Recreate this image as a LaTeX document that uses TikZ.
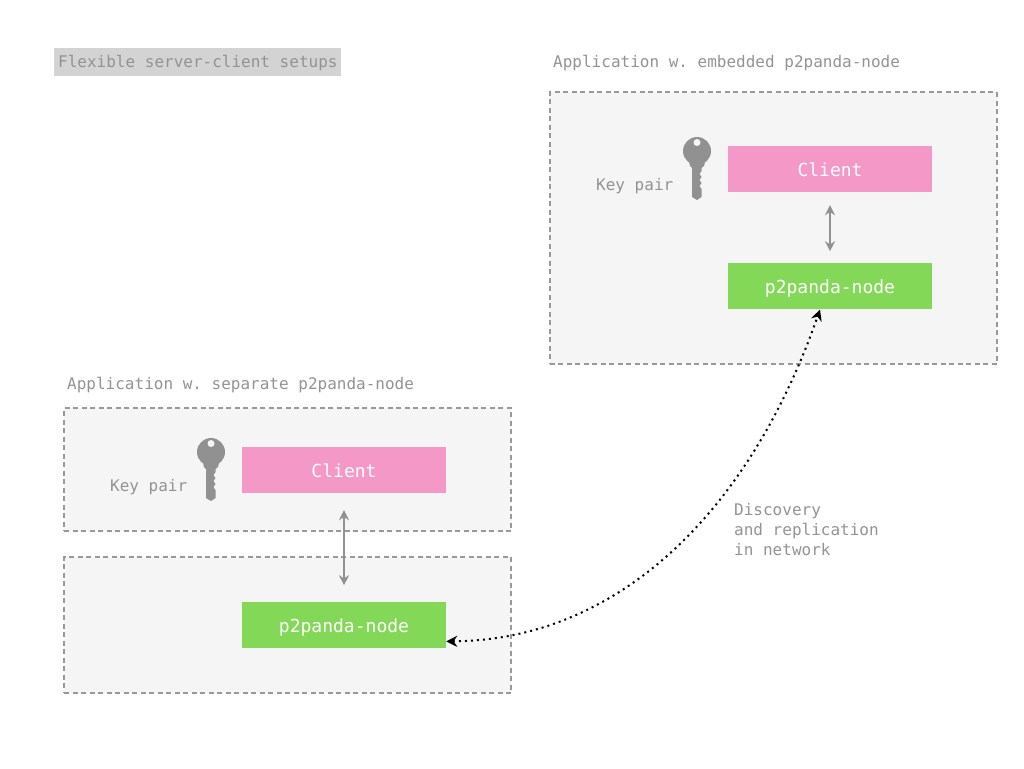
\documentclass[tikz,border=0pt]{standalone}
\usepackage{fontspec}
\setmonofont{DejaVu Sans Mono}
\usetikzlibrary{arrows.meta,positioning}
\definecolor{greytext}{HTML}{939393}
\definecolor{greyframe}{HTML}{999999}
\definecolor{greykey}{HTML}{919191}
\definecolor{greyfill}{HTML}{F5F5F5}
\definecolor{greytitle}{HTML}{D3D3D3}
\definecolor{clientpink}{HTML}{F398C7}
\definecolor{nodegreen}{HTML}{83D858}
\tikzset{
  caption/.style={font=\ttfamily\fontsize{16}{20}\selectfont, text=greytext, inner sep=0pt, align=left},
  setup/.style={draw=greyframe, fill=greyfill, line width=2pt, dash pattern=on 5pt off 3.5pt, minimum width=447pt, inner sep=0pt},
  part/.style={minimum width=204pt, minimum height=46pt, inner sep=0pt, text=white, text height=14pt, text depth=0pt,
    font=\ttfamily\fontsize{18}{20}\selectfont},
  client/.style={part, fill=clientpink},
  p2p/.style={part, fill=nodegreen},
  link/.style={greykey, line width=2pt, {Stealth[length=10pt,width=10pt]}-{Stealth[length=10pt,width=10pt]}},
  keyicon/.pic={
    % bow, neck and bit with its teeth, hole cut out in the fill colour
    \fill[greykey] (0,0) circle (14pt);
    \fill[greykey] (-8,11) -- (8,11) -- (7,15) -- (4.5,17) -- (4.5,20) -- (2.5,23) -- (4.5,26) -- (2.5,29)
      -- (4.5,32) -- (2.5,35) -- (4.5,38) -- (4.5,46) -- (0,49) -- (-5,46) -- (-5,17) -- (-7,15) -- cycle;
    \fill[greyfill] (0,-8.5) circle (3.5pt);
  }
}
\begin{document}
\begin{tikzpicture}[x=1pt, y=-1pt]
  \useasboundingbox (0,0) rectangle (1024,768);

  % title
  \node [fill=greytitle, minimum width=287pt, minimum height=28pt, inner sep=0pt] (titlebox) at (197.5,62) {};
  \node [caption, anchor=base west] (title) at (58,67) {Flexible server-client setups};

  % embedded setup
  \node [caption, anchor=base west] (embeddedlabel) at (553,67) {Application w. embedded p2panda-node};
  \node [setup, minimum height=272pt] (embedded) at (773,228) {};
  \node [client] (clienta) at (830,169) {Client};
  \node [p2p, below=71pt of clienta] (nodea) {p2panda-node};
  \pic at (697,151) {keyicon};
  \node [caption, anchor=base west] (keya) at (596,190) {Key pair};

  % separate setup
  \node [caption, anchor=base west] (separatelabel) at (67,389) {Application w. separate p2panda-node};
  \node [setup, minimum height=123pt] (appbox) at (287.5,469.5) {};
  \node [setup, minimum height=136pt] (nodebox) at (287.5,625) {};
  \node [client] (clientb) at (344,470) {Client};
  \node [p2p, below=109pt of clientb] (nodeb) {p2panda-node};
  \pic at (211,452) {keyicon};
  \node [caption, anchor=base west] (keyb) at (110,491) {Key pair};

  \draw [link, shorten <=13pt, shorten >=12pt] (clienta) -- (nodea);
  \draw [link, shorten <=17pt, shorten >=17pt] (clientb) -- (nodeb);

  \draw [black, line width=2pt, dash pattern=on 2pt off 4pt, {Stealth[length=11pt,width=11pt]}-{Stealth[length=11pt,width=11pt]}]
    ([yshift=-16pt]nodeb.east) .. controls (620,640) and (750,510) .. ([xshift=-10pt]nodea.south);

  \node [caption, anchor=north west] (network) at (734,503) {Discovery\\and replication\\in network};
\end{tikzpicture}
\end{document}
